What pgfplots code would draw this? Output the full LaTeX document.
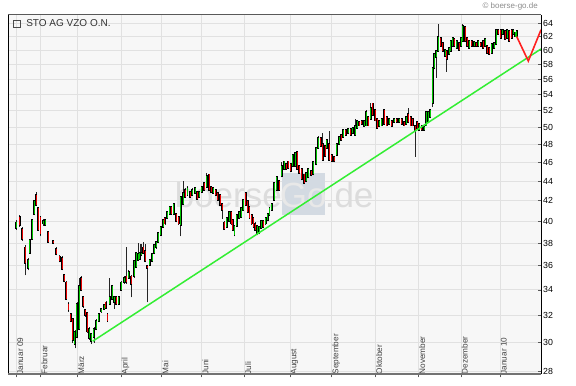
\documentclass[border=0pt]{standalone}
\usepackage{pgfplots}
\pgfplotsset{compat=1.18}
\usepackage{pgfplotstable}
\usepackage{fontspec}
\setmainfont{Liberation Sans}
\definecolor{bgc}{HTML}{F7F7F7}
\definecolor{gridc}{HTML}{E1E1E1}
\definecolor{cgreen}{HTML}{00C400}
\definecolor{cred}{HTML}{E60000}
\definecolor{trend}{HTML}{33EE33}
\definecolor{fc}{HTML}{FF2020}
\definecolor{wm}{HTML}{DCDCDC}
\definecolor{wmbox}{HTML}{D3DAE2}
\definecolor{wmtext}{HTML}{E8E8E8}
\definecolor{lab}{HTML}{444444}

\pgfplotstableread{
x o h l c
16.3 39.4 40.1 39.2 39.9
19.7 40.4 40.6 39.5 39.7
22.0 39.3 39.5 38.2 38.4
25.3 37.6 37.8 35.2 36.2
28.0 35.8 36.7 35.6 36.5
29.9 37.1 38.4 37.0 38.3
32.0 38.4 40.2 38.3 40.1
34.0 40.7 42.1 40.6 42.0
36.3 42.6 42.9 41.5 41.6
38.3 41.3 41.4 39.1 39.2
40.5 40.4 40.5 38.6 38.8
43.0 39.8 40.2 39.6 40.0
45.3 39.7 40.2 39.6 40.1
48.0 39.0 39.1 38.0 38.1
53.0 38.2 38.3 37.9 38.0
56.3 37.5 37.6 36.9 37.0
59.7 36.8 36.9 36.3 36.4
62.0 36.7 36.8 35.6 35.7
64.0 35.2 35.3 34.6 34.7
66.3 34.6 34.7 33.2 33.3
68.5 32.9 33.0 32.3 32.4
70.6 32.1 32.2 31.5 31.6
72.7 31.7 31.8 30.0 30.2
74.8 29.9 30.9 29.6 30.8
76.9 30.4 33.0 30.3 32.9
79.1 31.0 35.0 30.9 34.3
81.3 35.0 35.1 33.9 34.0
83.3 33.4 33.5 32.6 32.7
85.4 32.4 32.5 31.9 32.0
87.4 32.2 32.3 30.7 30.8
89.2 30.3 31.1 30.2 31.0
91.0 30.1 30.7 29.9 30.6
93.8 30.4 31.1 30.0 31.0
96.0 31.0 31.7 30.9 31.6
98.7 31.6 32.2 31.5 32.1
101.3 32.3 32.6 32.2 32.5
104.0 32.5 32.9 32.4 32.8
105.9 33.0 33.1 32.5 32.6
107.5 32.1 32.2 31.5 31.6
109.7 32.9 35.0 32.8 33.4
112.0 33.3 34.4 33.2 34.3
114.0 33.0 33.5 32.5 33.4
116.3 33.4 33.5 32.8 32.9
118.7 32.9 33.5 32.8 33.4
121.3 34.0 34.7 33.9 34.6
124.0 34.6 35.1 34.5 35.0
126.3 35.1 37.6 34.5 34.6
128.7 35.0 35.6 34.9 35.5
131.3 35.1 35.2 33.4 34.5
134.0 35.1 36.5 35.0 36.4
136.0 35.9 37.2 35.8 37.1
138.0 36.5 38.0 36.4 37.0
139.8 36.6 37.9 36.5 37.1
141.5 36.9 37.9 36.8 37.1
143.2 37.6 38.1 37.0 37.1
145.0 37.3 37.9 36.3 36.4
147.3 36.0 36.1 33.0 35.8
149.7 36.1 36.6 36.0 36.5
152.0 36.4 37.1 36.3 37.0
154.0 37.1 37.9 37.0 37.8
156.3 37.6 38.2 37.5 38.1
158.0 38.1 39.0 38.0 38.9
160.7 38.7 39.6 38.6 39.5
163.0 39.5 40.2 39.4 40.1
164.8 40.3 40.4 39.7 39.8
167.0 40.3 41.0 40.2 40.9
169.7 40.7 41.5 40.6 41.4
171.5 41.4 41.5 40.6 40.7
173.7 40.7 41.8 40.6 41.7
176.3 40.7 40.8 39.9 40.0
178.7 40.4 40.5 39.7 39.8
180.7 39.7 42.5 38.6 42.4
183.0 41.7 44.0 41.6 42.8
185.3 43.1 43.3 42.3 42.4
187.5 42.6 43.5 42.5 43.3
190.0 42.9 43.0 42.3 42.4
192.3 42.6 43.3 42.5 43.1
195.0 42.8 43.4 42.7 43.3
197.3 42.9 43.0 42.1 42.2
199.3 42.4 43.0 42.3 42.9
201.7 42.9 43.5 42.8 43.4
204.0 43.8 43.9 43.0 43.1
206.7 43.4 44.9 43.3 44.5
209.0 44.7 44.8 43.0 43.1
211.0 43.4 43.5 42.8 42.9
213.3 42.8 43.4 42.7 43.3
215.7 43.1 43.2 42.5 42.6
217.7 42.8 42.9 42.0 42.1
220.0 42.6 42.7 41.5 41.6
222.3 41.7 41.8 40.2 41.1
224.3 39.9 40.0 39.2 39.3
226.7 39.5 40.4 39.4 40.3
229.0 40.0 41.0 39.9 40.9
231.0 40.9 41.0 39.7 39.8
232.8 40.1 40.2 39.1 39.2
234.5 38.7 39.7 38.6 39.6
236.7 39.6 40.7 39.5 40.6
239.0 40.3 41.0 40.2 40.9
241.0 40.4 41.4 40.3 41.3
243.3 41.1 42.2 41.0 42.1
245.7 42.8 42.9 41.5 41.6
247.7 42.0 42.1 40.8 40.9
249.5 41.4 41.5 40.2 40.3
251.7 40.6 40.7 39.7 39.8
253.5 40.3 40.4 39.4 39.5
255.2 39.8 39.9 39.1 39.2
257.3 38.9 39.7 38.7 39.6
259.3 38.9 39.6 38.8 39.5
261.2 39.4 40.1 39.3 40.0
263.3 40.0 40.1 39.4 39.5
265.7 39.8 40.4 39.7 40.3
267.7 40.1 40.8 40.0 40.7
269.5 40.6 41.4 40.5 41.3
271.7 41.1 41.8 41.0 41.7
274.0 42.1 43.9 42.0 43.8
276.7 43.1 44.5 43.0 44.4
279.0 44.0 44.1 43.0 43.1
281.7 44.5 46.0 44.4 45.6
284.0 45.3 46.2 45.2 46.1
286.0 45.8 45.9 45.2 45.3
288.3 46.1 46.2 45.3 45.4
290.7 45.8 45.9 45.0 45.1
292.7 45.6 46.9 45.5 46.8
295.0 45.6 47.1 45.5 47.0
297.3 47.2 47.3 45.2 45.3
299.3 45.6 45.7 44.8 44.9
301.7 45.3 45.4 44.1 44.2
304.0 44.7 44.8 43.7 43.8
306.0 44.0 45.0 43.9 44.9
308.3 44.4 45.4 44.3 45.3
311.0 45.1 45.2 44.5 44.6
313.3 44.7 46.1 44.6 46.0
316.0 45.8 47.7 45.7 47.6
318.3 47.6 49.0 47.5 48.7
320.7 48.7 48.8 47.7 47.8
322.7 48.1 49.3 46.2 46.3
325.0 47.8 47.9 46.6 46.7
326.8 47.6 48.6 47.5 48.5
329.0 48.1 49.6 46.2 46.3
331.7 46.8 46.9 46.0 46.1
334.0 46.6 46.7 46.0 46.1
336.7 46.8 48.2 46.7 48.1
339.0 48.1 49.0 48.0 48.9
341.0 49.1 49.2 48.4 48.5
343.3 48.9 49.8 48.8 49.7
345.7 49.7 49.8 49.0 49.1
348.3 49.3 49.9 49.2 49.8
350.7 49.8 49.9 49.0 49.1
352.7 49.3 50.0 49.2 49.9
355.0 49.1 51.0 49.0 50.1
357.3 49.9 50.9 49.8 50.8
359.3 50.6 50.7 50.1 50.2
361.7 50.8 50.9 50.3 50.4
364.0 50.1 50.9 50.0 50.8
366.0 50.2 52.1 50.1 51.9
368.3 51.2 51.3 50.1 50.2
370.7 51.0 52.9 50.9 52.3
372.7 52.9 53.0 51.4 51.5
375.0 52.1 52.2 50.7 50.8
377.3 51.0 51.1 49.8 49.9
379.3 50.1 50.9 50.0 50.8
381.7 50.2 51.1 50.1 51.0
384.0 52.1 52.2 50.3 50.4
386.7 51.2 51.3 50.1 50.2
389.3 50.4 51.1 50.3 51.0
391.7 50.8 50.9 50.0 50.1
394.0 50.6 51.1 50.5 51.0
396.7 51.0 51.1 50.5 50.6
399.3 50.6 51.1 50.5 51.0
401.7 51.0 51.1 50.3 50.4
404.0 50.6 50.7 50.1 50.2
406.0 50.4 51.3 50.3 51.2
408.3 51.6 52.3 50.5 50.6
410.7 51.2 51.3 50.1 50.2
412.7 51.0 51.1 50.1 50.2
415.0 50.2 50.3 46.6 49.7
417.3 50.6 50.7 49.8 49.9
419.3 49.7 50.5 49.6 50.4
421.7 50.2 50.3 49.6 49.7
424.0 49.7 50.1 49.6 50.0
426.0 50.2 52.0 50.1 51.9
428.3 50.6 52.0 50.5 51.9
430.0 51.2 52.2 51.1 52.1
432.7 52.9 57.6 52.5 57.5
434.3 57.5 59.6 57.4 59.5
436.0 59.0 60.0 56.2 59.9
438.3 59.9 63.8 59.8 62.0
440.7 61.8 61.9 60.5 60.6
442.7 61.1 61.2 59.8 59.9
445.0 59.2 60.2 59.1 60.1
446.7 59.9 60.0 57.0 58.8
449.0 59.5 60.5 59.4 60.4
450.7 59.9 61.4 59.8 61.3
452.7 60.6 61.9 60.5 61.8
454.3 61.6 61.7 60.5 60.6
456.7 60.4 61.4 60.3 61.3
459.0 61.1 61.2 60.0 60.1
461.0 60.6 61.9 60.5 61.8
462.7 61.3 63.9 61.2 63.6
465.0 63.4 63.5 61.2 61.3
467.3 61.8 61.9 60.5 60.6
469.3 60.4 61.4 60.3 61.3
471.7 61.3 61.4 60.5 60.6
474.0 60.6 61.3 60.5 61.2
476.0 61.1 61.2 60.5 60.6
478.3 60.6 61.4 60.5 61.3
480.7 61.1 61.2 60.5 60.6
483.3 61.3 61.4 60.3 60.4
485.0 60.6 61.7 60.5 61.6
487.3 60.6 60.7 59.5 59.6
489.3 60.4 60.5 59.4 59.5
491.7 59.6 61.0 59.5 60.9
494.0 60.4 61.2 60.3 61.1
496.0 60.9 63.1 60.8 63.0
498.3 63.0 63.1 62.2 62.3
500.7 63.0 63.1 61.7 61.8
502.7 62.3 63.1 62.2 63.0
505.0 62.8 62.9 61.5 61.6
507.3 61.8 63.1 61.7 63.0
509.3 62.8 62.9 61.2 61.3
511.7 63.0 63.1 61.7 61.8
513.3 62.3 63.1 62.2 63.0
515.0 62.0 62.7 61.9 62.6
516.7 62.0 62.9 61.9 62.8
}\ohlc

\pgfplotsset{
  candle/.style={forget plot, draw=none, mark=none,
    error bars/.cd, y dir=plus, y explicit, error mark=none,
    error bar style={#1}},
}

\begin{document}
\begin{tikzpicture}
\begin{axis}[
  scale only axis, width=532.7pt, height=359.3pt,
  xmin=8.3, xmax=541, ymode=log, ymin=27.85, ymax=65.3,
  axis background/.style={fill=bgc},
  axis line style={draw=none},
  grid=major, major grid style={draw=gridc, line width=0.9pt},
  xtick={16.7,40.7,77.7,121,161.7,201.7,244.3,290,331.7,375.5,418.3,461,500},
  xticklabels={Januar 09,Februar,März,April,Mai,Juni,Juli,August,September,Oktober,November,Dezember,Januar 10},
  ytick={28,30,32,34,36,38,40,42,44,46,48,50,52,54,56,58,60,62,64},
  yticklabels={28,30,32,34,36,38,40,42,44,46,48,50,52,54,56,58,60,62,64},
  yminorticks=false, xminorticks=false,
  xtick pos=lower, ytick pos=upper, yticklabel pos=upper,
  xtick align=outside, ytick align=inside,
  major tick length=3.5pt,
  tick style={draw=black!65, line width=0.7pt},
  yticklabel style={anchor=west, inner sep=0pt, xshift=2pt, font=\fontsize{8.8}{10}\selectfont, text=black},
  xticklabel style={yshift=3pt, xshift=0.6pt, rotate=90, anchor=north west, inner sep=0pt, font=\fontsize{8.2}{9}\selectfont, text=lab},
  legend style={at={(0,1)}, anchor=north west, xshift=3.5pt, yshift=-2pt, draw=none, fill=none, inner sep=1pt, font=\fontsize{10}{12}\selectfont, text=black!80, /tikz/every odd column/.append style={column sep=3.5pt}},
  legend image code/.code={\draw[black!70, line width=0.6pt] (0pt,-3.6pt) rectangle (7.2pt,3.6pt);},
]
\node[inner sep=0pt, font=\fontsize{35}{40}\selectfont] at (rel axis cs:0.499,0.5)
  {\textcolor{wm}{boerse}{\setlength{\fboxsep}{0pt}\colorbox{wmbox}{\rule[-8pt]{0pt}{42pt}\makebox[43pt]{\textcolor{wmtext}{Go}}}}\textcolor{wm}{.de}};
\addlegendimage{black}
\addlegendentry{STO AG VZO O.N.}
% wicks
\addplot[candle={draw=black!85, line width=0.6pt}]
  table[x=x, y=l, y error expr=\thisrow{h}-\thisrow{l}] {\ohlc};
% body outlines
\addplot[candle={draw=black, line width=1.9pt, line cap=rect}]
  table[x=x, y expr={min(\thisrow{o},\thisrow{c})}, y error expr={abs(\thisrow{c}-\thisrow{o})}] {\ohlc};
% green bodies
\addplot[restrict expr to domain={\thisrow{c}-\thisrow{o}}{0:100}, candle={draw=cgreen, line width=0.85pt}]
  table[x=x, y expr={min(\thisrow{o},\thisrow{c})}, y error expr={abs(\thisrow{c}-\thisrow{o})}] {\ohlc};
% red bodies
\addplot[restrict expr to domain={\thisrow{c}-\thisrow{o}}{-100:-0.001}, candle={draw=cred, line width=0.85pt}]
  table[x=x, y expr={min(\thisrow{o},\thisrow{c})}, y error expr={abs(\thisrow{c}-\thisrow{o})}] {\ohlc};
% trend line
\addplot[trend, line width=1.5pt, forget plot] coordinates {(92.7,30.1) (541,60.2)};
% forecast
\addplot[fc, line width=1.6pt, forget plot] coordinates {(516.7,62.0) (528.3,58.5) (541,63.0)};
\end{axis}
\draw[black, line width=1pt] (current axis.south west) -- (current axis.north west);
\draw[black!65, line width=1pt] (current axis.north west) -- (current axis.north east);
\draw[black, line width=1pt] (current axis.south east) -- (current axis.north east);
\draw[black!55, line width=1.5pt] (current axis.south west) -- (current axis.south east);
\node[anchor=east, inner sep=0pt, font=\fontsize{8}{9}\selectfont, text=black!45] at ([xshift=-3pt,yshift=8.7pt]current axis.north east) {\textcopyright{} boerse-go.de};
\pgfresetboundingbox
\path[use as bounding box] ([xshift=-8.3pt,yshift=-11pt]current axis.south west) rectangle ([xshift=35pt,yshift=14.7pt]current axis.north east);
\end{tikzpicture}
\end{document}
